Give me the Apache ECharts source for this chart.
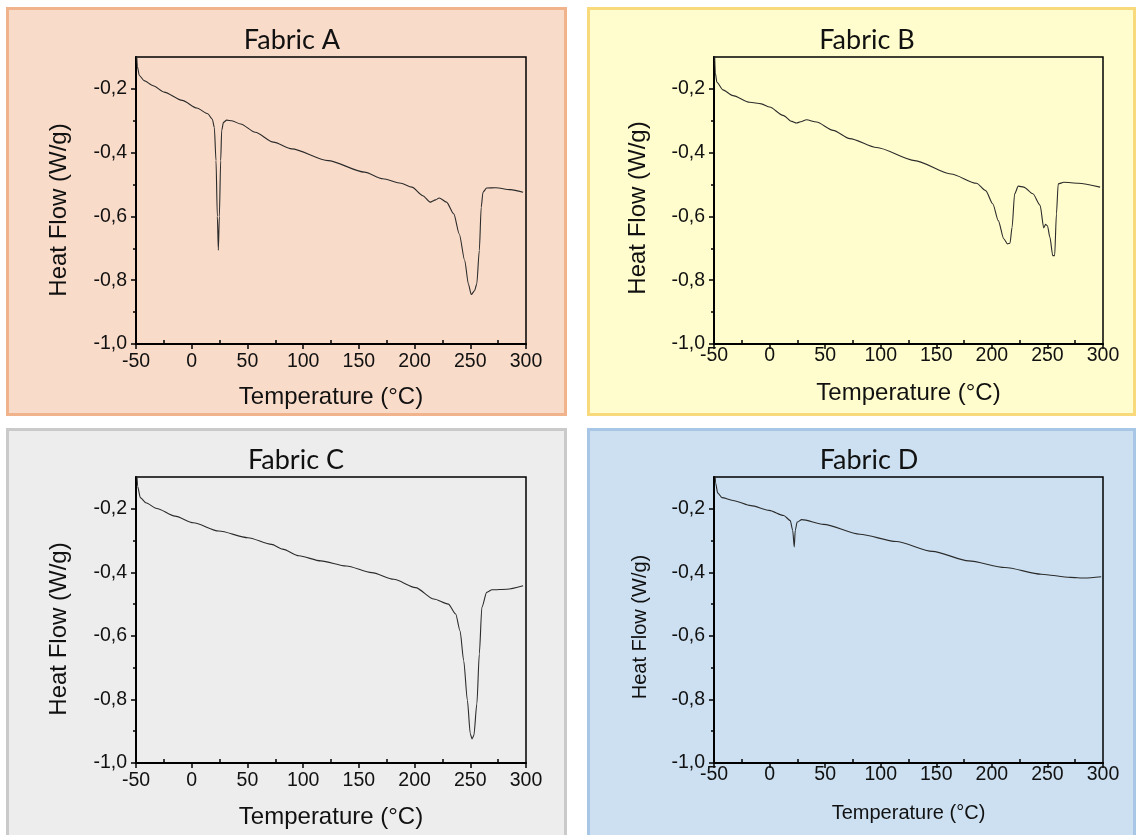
<!DOCTYPE html>
<html>
<head>
<meta charset="utf-8">
<title>Fabric DSC</title>
<script src="https://cdn.jsdelivr.net/npm/echarts@6/dist/echarts.min.js"></script>
<style>
    html, body {margin: 0; padding: 0; background: #fff;}
    #graph {width: 1139px; height: 835px;}
</style>
</head>
<body>
<div id="graph"></div>
<script>
// 刻度
var xMajor = [-50, 0, 50, 100, 150, 200, 250, 300];
var xMinor = [-25, 25, 75, 125, 175, 225, 275];
var yMajor = [-1, -0.8, -0.6, -0.4, -0.2];
var yMinor = [-0.9, -0.7, -0.5, -0.3];

var panelNames = ['Fabric A', 'Fabric B', 'Fabric C', 'Fabric D'];

// Fabric A
var tempA = [-49.7, -48.8, -47, -42.8, -34.6, -24.8, -8.5, 4.6, 14.4, 18.5, 20.3, 21.8, 23, 23.9, 24.8, 26, 26.9, 28.5, 31.4, 36, 43.9, 57, 73.3, 89.7, 122.4, 155, 171.5, 187.8, 197.6, 207.4, 214, 218.9, 222.1, 228.7, 235.2, 240.1, 245, 248.3, 250.9, 253.8, 255.8, 258.1, 259.8, 261.4, 264.7, 272.9, 286, 297.4];
var flowA = [-0.06, -0.13, -0.158, -0.174, -0.19, -0.21, -0.236, -0.26, -0.278, -0.295, -0.321, -0.425, -0.6, -0.706, -0.6, -0.425, -0.33, -0.305, -0.298, -0.3, -0.31, -0.336, -0.367, -0.388, -0.425, -0.461, -0.482, -0.496, -0.508, -0.535, -0.555, -0.548, -0.542, -0.555, -0.592, -0.655, -0.738, -0.812, -0.845, -0.833, -0.812, -0.707, -0.571, -0.524, -0.511, -0.51, -0.516, -0.524];

// Fabric B
var tempB = [-49.7, -48.8, -47.4, -42, -33, -17.9, -7.4, 0.1, 12.1, 20, 24.2, 28, 33.2, 42.2, 57.2, 72.2, 96.3, 130.6, 163.3, 186.2, 194.4, 200.9, 205.8, 210.7, 214, 216.3, 218.2, 220.5, 223.8, 228.7, 236.9, 243.4, 246.7, 248.3, 250, 252.2, 254.8, 256.5, 258.1, 259.7, 264.7, 277.8, 297.4];
var flowB = [-0.06, -0.15, -0.179, -0.203, -0.221, -0.242, -0.247, -0.257, -0.283, -0.302, -0.307, -0.303, -0.297, -0.304, -0.33, -0.356, -0.384, -0.425, -0.467, -0.496, -0.519, -0.561, -0.613, -0.67, -0.686, -0.684, -0.634, -0.529, -0.505, -0.508, -0.529, -0.565, -0.636, -0.625, -0.629, -0.665, -0.723, -0.723, -0.592, -0.498, -0.493, -0.496, -0.508];

// Fabric C
var tempC = [-49.6, -48.5, -46.1, -41.2, -31.4, -15, 1.4, 24.3, 50.4, 71.7, 81.5, 96.2, 115.9, 138.7, 161.6, 181.3, 200.9, 217.3, 230.3, 236.9, 240.8, 244.1, 247.4, 250, 251.6, 253.2, 255.9, 258.1, 260.4, 264.7, 269.6, 282.7, 297.4];
var flowC = [-0.06, -0.13, -0.165, -0.181, -0.199, -0.223, -0.244, -0.27, -0.291, -0.312, -0.327, -0.348, -0.364, -0.38, -0.401, -0.422, -0.448, -0.484, -0.5, -0.531, -0.584, -0.678, -0.803, -0.908, -0.924, -0.913, -0.814, -0.657, -0.51, -0.463, -0.455, -0.453, -0.442];

// Fabric D
var tempD = [-49.5, -48.5, -46.7, -42.8, -33, -16.7, -0.4, 12.7, 18.6, 20.8, 22.2, 23.1, 24.8, 29, 48.6, 81.2, 113.9, 146.5, 179.2, 211.8, 244.5, 270.6, 283.6, 298.4];
var flowD = [-0.06, -0.12, -0.15, -0.165, -0.174, -0.19, -0.205, -0.221, -0.237, -0.268, -0.32, -0.268, -0.242, -0.234, -0.249, -0.28, -0.303, -0.334, -0.364, -0.385, -0.406, -0.416, -0.418, -0.414];

var temps = [tempA, tempB, tempC, tempD];
var flows = [flowA, flowB, flowC, flowD];

// 面板布局 (像素)
var panels = [
    {box: [7.5, 8.5, 558, 406], fill: '#f9dbc9', stroke: '#f0b38c', grid: [136, 57, 390, 287], titleX: 287, titleY: 22, labelSize: 24, yName: [59, 210], nameGapX: 41, xMargin: 8},
    {box: [588.5, 8.5, 546, 406], fill: '#fffdcd', stroke: '#f8d97c', grid: [714, 57, 389, 287], titleX: 862, titleY: 22, labelSize: 24, yName: [638, 208], nameGapX: 37, xMargin: 2},
    {box: [7.5, 429.5, 558, 420], fill: '#ededed', stroke: '#cacaca', grid: [136, 477, 390, 286], titleX: 291, titleY: 442, labelSize: 24, yName: [59, 629], nameGapX: 42, xMargin: 8},
    {box: [588.5, 429.5, 546, 420], fill: '#cce0f1', stroke: '#a8c6e6', grid: [714, 477, 389, 286], titleX: 864, titleY: 442, labelSize: 20, yName: [640, 627], nameGapX: 40, xMargin: 2}
];

function fmtComma(v) {
    return v.toFixed(1).replace('.', ',');
}

function $each(arr, fn) {
    for (var i = 0; i < arr.length; i++) fn(arr[i], i);
}

function buildOption() {
    var option = {
        animation: false,
        graphic: [],
        title: [],
        grid: [],
        xAxis: [],
        yAxis: [],
        series: []
    };

    $each(panels, function (p, i) {
        // 面板背景
        option.graphic.push({
            type: 'rect',
            z: -10,
            shape: {x: p.box[0], y: p.box[1], width: p.box[2], height: p.box[3]},
            style: {fill: p.fill, stroke: p.stroke, lineWidth: 3}
        });
        // 纵轴标题
        option.graphic.push({
            type: 'text',
            x: p.yName[0],
            y: p.yName[1],
            rotation: Math.PI / 2,
            style: {
                text: 'Heat Flow (W/g)', fill: '#111',
                font: p.labelSize + 'px "Liberation Sans"',
                align: 'center', verticalAlign: 'middle'
            }
        });

        option.title.push({
            text: panelNames[i],
            left: p.titleX,
            top: p.titleY,
            textAlign: 'center',
            textStyle: {fontFamily: 'Lato', fontWeight: 'normal', fontSize: 27, color: '#111'}
        });

        option.grid.push({
            left: p.grid[0], top: p.grid[1], width: p.grid[2], height: p.grid[3],
            show: true, borderColor: '#000', borderWidth: 1.5, backgroundColor: 'transparent'
        });

        // 主坐标轴
        option.xAxis.push({
            type: 'value', gridIndex: i, min: -50, max: 300, interval: 50,
            name: 'Temperature (°C)', nameLocation: 'middle', nameGap: p.nameGapX,
            nameTextStyle: {fontFamily: 'Liberation Sans', fontSize: p.labelSize, color: '#111'},
            axisLine: {onZero: false, lineStyle: {color: '#000', width: 2}},
            axisTick: {show: true, length: 5, lineStyle: {color: '#000', width: 1.5}, customValues: xMajor},
            axisLabel: {fontFamily: 'Liberation Sans', fontSize: 19.5, color: '#111', margin: p.xMargin, customValues: xMajor},
            splitLine: {show: false}
        });
        // 次刻度 (朝内)
        option.xAxis.push({
            type: 'value', gridIndex: i, min: -50, max: 300, position: 'bottom',
            axisLine: {show: false, onZero: false},
            axisTick: {show: true, inside: true, length: 4, lineStyle: {color: '#000', width: 1.5}, customValues: xMinor},
            axisLabel: {show: false},
            splitLine: {show: false}
        });

        option.yAxis.push({
            type: 'value', gridIndex: i, min: -1, max: -0.1, interval: 0.2,
            axisLine: {onZero: false, lineStyle: {color: '#000', width: 2}},
            axisTick: {show: true, length: 5, lineStyle: {color: '#000', width: 1.5}, customValues: yMajor},
            axisLabel: {fontFamily: 'Liberation Sans', fontSize: 19.5, color: '#111', margin: 9,
                customValues: yMajor, formatter: fmtComma},
            splitLine: {show: false}
        });
        // 次刻度
        option.yAxis.push({
            type: 'value', gridIndex: i, min: -1, max: -0.1, position: 'left',
            axisLine: {show: false, onZero: false},
            axisTick: {show: true, length: 3, lineStyle: {color: '#000', width: 1.5}, customValues: yMinor},
            axisLabel: {show: false},
            splitLine: {show: false}
        });

        var data = [];
        for (var k = 0; k < temps[i].length; k++) {
            data.push([temps[i][k], flows[i][k]]);
        }
        option.series.push({
            type: 'line',
            xAxisIndex: i * 2,
            yAxisIndex: i * 2,
            data: data,
            showSymbol: false,
            smooth: 0.25,
            smoothMonotone: 'x',
            clip: true,
            lineStyle: {color: '#2b2b2b', width: 1.1}
        });
    });

    return option;
}

var chart = echarts.init(document.getElementById('graph'));
chart.setOption(buildOption());
</script>
</body>
</html>
